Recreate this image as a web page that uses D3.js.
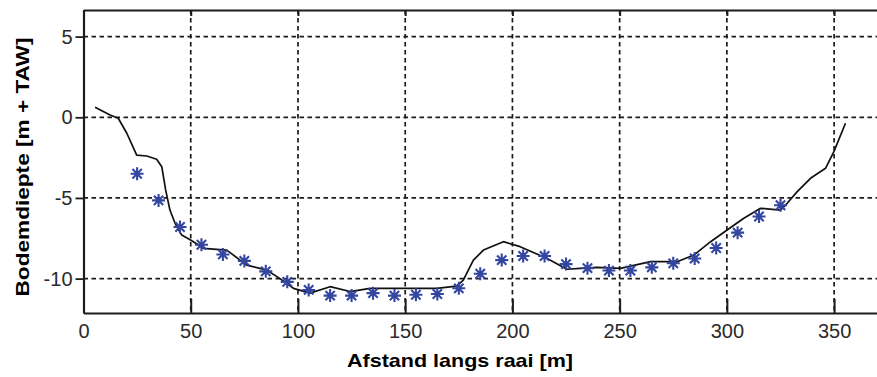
<!DOCTYPE html>
<html>
<head>
<meta charset="utf-8">
<script src="https://cdn.jsdelivr.net/npm/d3@7"></script>
<style>
  html, body { margin: 0; padding: 0; background: #fff; }
  svg { display: block; }
</style>
</head>
<body>
<svg id="chart" width="877" height="377"></svg>
<script>
// Measured bed profile along the transect: [distance (m), depth (m + TAW)]
const profileDistance = [5.4, 12.4, 16.2, 20.2, 24.8, 29.5, 34.1, 36.5, 38.3, 40.3, 42.7, 45.8, 50.5, 55.9, 60.5, 66.8, 76.1, 85.4, 91.6, 97.9, 105.6, 115, 124.3, 133.6, 149.2, 164.7, 174, 177.1, 181.8, 186.5, 195.8, 203.6, 216, 225.4, 231.6, 239.5, 250.4, 264.4, 276.8, 284.6, 292.4, 300.1, 307.9, 315.7, 325, 328.1, 332.8, 339, 346, 349.9, 355.3];
const profileDepth = [0.62, 0.14, -0.06, -0.99, -2.34, -2.4, -2.6, -3.06, -4.5, -5.75, -6.57, -7.3, -7.65, -8.12, -8.17, -8.23, -9.16, -9.47, -10.0, -10.6, -10.9, -10.5, -10.8, -10.6, -10.6, -10.6, -10.46, -10.09, -8.85, -8.23, -7.71, -8.02, -8.74, -9.42, -9.36, -9.3, -9.36, -8.95, -8.95, -8.54, -7.71, -6.99, -6.26, -5.64, -5.75, -5.33, -4.61, -3.78, -3.16, -2.13, -0.37];

// Sounding points (asterisks)
const pointDistance = [25, 35, 45, 55, 65, 75, 85, 95, 105, 115, 125, 135, 145, 155, 165, 175, 185, 195, 205, 215, 225, 235, 245, 255, 265, 275, 285, 295, 305, 315, 325];
const pointDepth = [-3.5, -5.15, -6.8, -7.9, -8.5, -8.9, -9.55, -10.2, -10.7, -11.05, -11.05, -10.9, -11.05, -11.0, -10.95, -10.6, -9.7, -8.85, -8.6, -8.6, -9.1, -9.35, -9.5, -9.5, -9.3, -9.05, -8.75, -8.1, -7.15, -6.15, -5.45];

const xTicks = [0, 50, 100, 150, 200, 250, 300, 350];
const yTicks = [5, 0, -5, -10];
const xTitle = "Afstand langs raai [m]";
const yTitle = "Bodemdiepte [m + TAW]";

const svg = d3.select("#chart");
const plot = { left: 83.5, right: 877, top: 10, bottom: 313 };

const x = d3.scaleLinear().domain([0, 370]).range([plot.left, plot.right]);
const y = d3.scaleLinear().domain([-12.13, 6.65]).range([plot.bottom, plot.top]);

const ink = "#1c1c1c";
const font = "'Liberation Sans', Arial, sans-serif";
const plainNumber = d => String(d);   // hyphen-minus for negative labels

// Dashed grid
const grid = svg.append("g").attr("stroke", ink).attr("stroke-width", 1.7)
  .attr("stroke-dasharray", "4.5,3.5").attr("fill", "none");
grid.selectAll(".gx").data(xTicks.filter(d => d > 0)).join("line")
  .attr("x1", d => x(d)).attr("x2", d => x(d))
  .attr("y1", plot.top).attr("y2", plot.bottom);
grid.selectAll(".gy").data(yTicks).join("line")
  .attr("x1", plot.left).attr("x2", plot.right)
  .attr("y1", d => y(d)).attr("y2", d => y(d));

// Bottom axis: ticks point inwards
const xAxis = d3.axisBottom(x).tickValues(xTicks).tickFormat(plainNumber)
  .tickSizeInner(-14).tickSizeOuter(0).tickPadding(24);
const gx = svg.append("g").attr("transform", `translate(0,${plot.bottom})`).call(xAxis);
gx.select(".domain").attr("stroke", ink).attr("stroke-width", 2.2);
gx.selectAll(".tick line").attr("stroke", ink).attr("stroke-width", 2);
gx.selectAll(".tick text").attr("font-family", font).attr("font-size", 20)
  .attr("fill", "#2a2a2a").attr("dy", "0.05em");

// Top axis: short inward ticks
const topAxis = d3.axisTop(x).tickValues(xTicks).tickSizeInner(-6).tickSizeOuter(0).tickFormat("");
const gt = svg.append("g").attr("transform", `translate(0,${plot.top})`).call(topAxis);
gt.select(".domain").attr("stroke", ink).attr("stroke-width", 2.2);
gt.selectAll(".tick line").attr("stroke", ink).attr("stroke-width", 2);

// Left axis
const yAxis = d3.axisLeft(y).tickValues(yTicks).tickFormat(plainNumber)
  .tickSizeInner(8).tickSizeOuter(0).tickPadding(3);
const gy = svg.append("g").attr("transform", `translate(${plot.left},0)`).call(yAxis);
gy.select(".domain").attr("stroke", ink).attr("stroke-width", 2.2);
gy.selectAll(".tick line").attr("stroke", ink).attr("stroke-width", 1.8);
gy.selectAll(".tick text").attr("font-family", font).attr("font-size", 20).attr("fill", "#2a2a2a");

// Profile line
const profile = profileDistance.map((d, i) => [d, profileDepth[i]]);
svg.append("path")
  .datum(profile)
  .attr("fill", "none")
  .attr("stroke", "#111")
  .attr("stroke-width", 1.7)
  .attr("stroke-linejoin", "round")
  .attr("d", d3.line().x(d => x(d[0])).y(d => y(d[1])));

// Asterisk markers: eight spokes
const r = 6.5, rd = r * 0.72;
const starPath = `M${-r},0L${r},0M0,${-r}L0,${r}M${-rd},${-rd}L${rd},${rd}M${-rd},${rd}L${rd},${-rd}`;
const points = pointDistance.map((d, i) => [d, pointDepth[i]]);
svg.append("g").selectAll("path").data(points).join("path")
  .attr("transform", d => `translate(${x(d[0])},${y(d[1])})`)
  .attr("d", starPath)
  .attr("fill", "none")
  .attr("stroke", "#3447a0")
  .attr("stroke-width", 2.1);

// Axis titles
svg.append("text")
  .attr("x", 460).attr("y", 367)
  .attr("text-anchor", "middle")
  .attr("font-family", font).attr("font-weight", "bold").attr("font-size", 19)
  .attr("textLength", 226).attr("lengthAdjust", "spacingAndGlyphs")
  .attr("fill", "#000")
  .text(xTitle);

svg.append("text")
  .attr("transform", "translate(29,167) rotate(-90)")
  .attr("text-anchor", "middle")
  .attr("font-family", font).attr("font-weight", "bold").attr("font-size", 19)
  .attr("textLength", 259).attr("lengthAdjust", "spacingAndGlyphs")
  .attr("fill", "#000")
  .text(yTitle);
</script>
</body>
</html>
